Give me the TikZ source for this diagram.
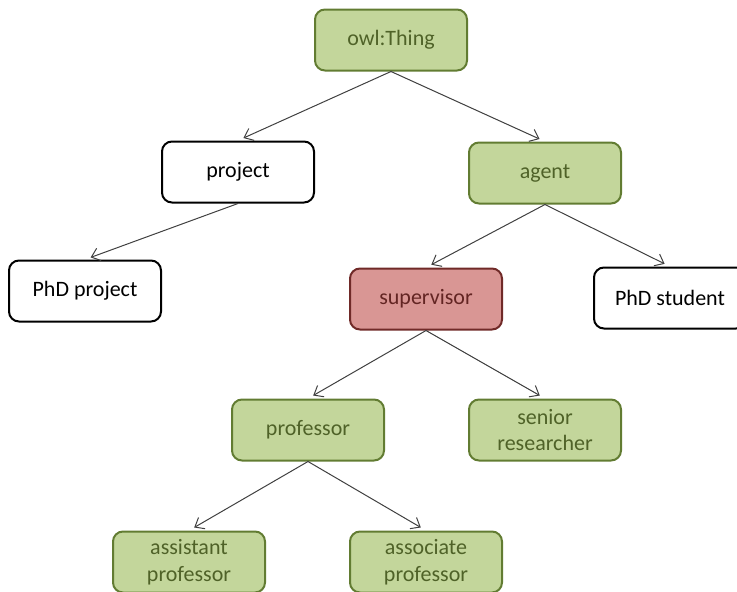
\documentclass[tikz,border=0pt]{standalone}
\usepackage{fontspec}
\setmainfont{Carlito}
\usetikzlibrary{arrows.meta}
\definecolor{olivefill}{RGB}{195,214,155}
\definecolor{oliveline}{RGB}{98,124,50}
\definecolor{olivetext}{RGB}{79,98,40}
\definecolor{rosefill}{RGB}{217,150,148}
\definecolor{roseline}{RGB}{112,42,40}
\definecolor{rosetext}{RGB}{99,37,35}
\tikzset{%
      classe/.style={draw, line width=2pt, rounded corners=10pt, minimum width=152pt, minimum height=61pt, inner sep=0pt, align=center, font=\fontsize{22}{26.5}\selectfont},
      owlclass/.style={classe, fill=olivefill, draw=oliveline, text=olivetext},
      focus/.style={classe, fill=rosefill, draw=roseline, text=rosetext},
      plain/.style={classe, fill=white, draw=black, text=black},
      line/.style={draw, line width=1pt, color=black!75, -{Straight Barb[length=8pt,width=13pt]}, shorten >=6pt},
    }
\newcommand{\classe}[3]{node (#1) [#2] {#3}}

\begin{document}
\begin{tikzpicture}[x=1pt, y=-1pt]
      \useasboundingbox (0,0) rectangle (737,592);

      % Draw diagram elements
      \path (391,40) \classe{thing}{owlclass}{owl:Thing};

      \path (238,172) \classe{project}{plain}{project};
      \path (545,173) \classe{agent}{owlclass}{agent};
      \path (85,291) \classe{phdproject}{plain}{PhD project};
      \path (426,299) \classe{supervisor}{focus}{supervisor};
      \path (670,298) \classe{phdstudent}{plain}{PhD student};
      \path (308,430) \classe{professor}{owlclass}{professor};
      \path (545,430) \classe{senior}{owlclass}{senior\\researcher};
      \path (189,562) \classe{assistant}{owlclass}{assistant\\professor};
      \path (426,562) \classe{associate}{owlclass}{associate\\professor};

      % Draw arrows between elements
      \path [line] (thing.south) -- (project.north);
      \path [line] (thing.south) -- (agent.north);
      \path [line] (project.south) -- (phdproject.north);
      \path [line] (agent.south) -- (supervisor.north);
      \path [line] (agent.south) -- (phdstudent.north);
      \path [line] (supervisor.south) -- (professor.north);
      \path [line] (supervisor.south) -- (senior.north);
      \path [line] (professor.south) -- (assistant.north);
      \path [line] (professor.south) -- (associate.north);

    \end{tikzpicture}
\end{document}
